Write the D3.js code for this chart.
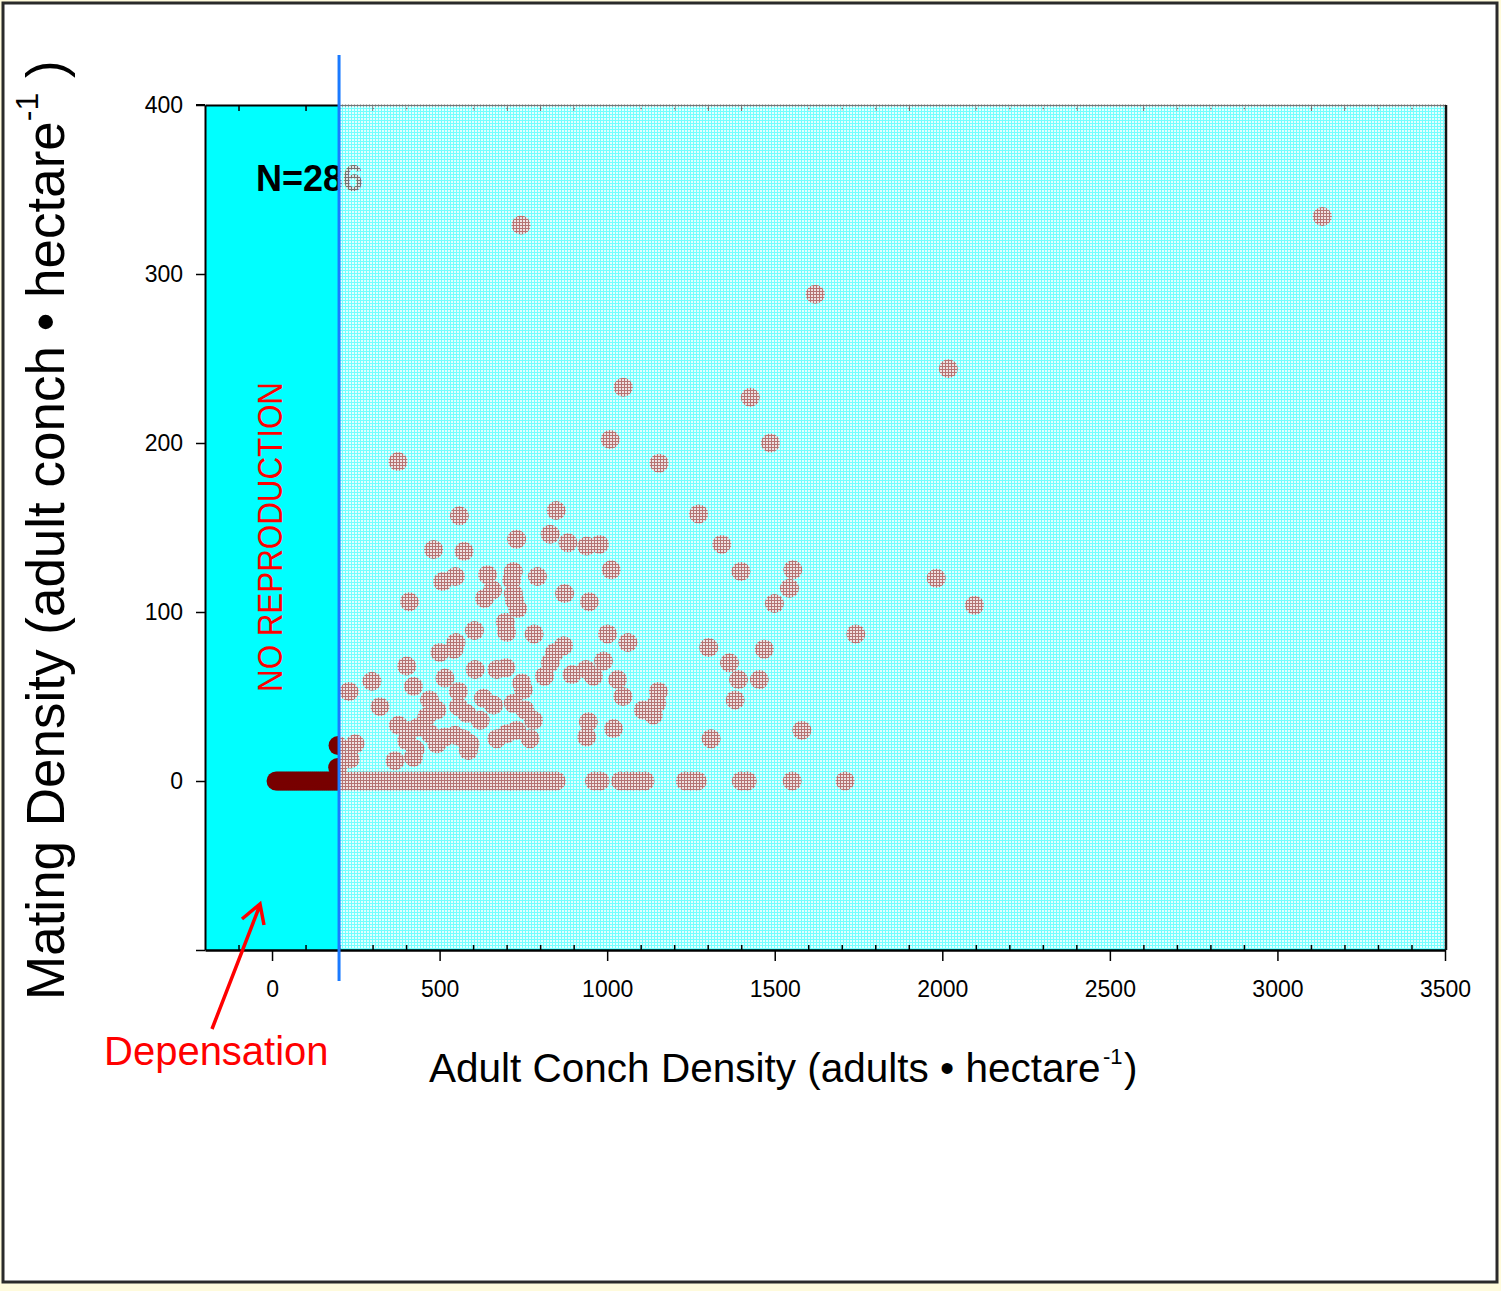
<!DOCTYPE html>
<html>
<head>
<meta charset="utf-8">
<script src="https://cdn.jsdelivr.net/npm/d3@7/dist/d3.min.js"></script>
<style>
  body { margin: 0; background: #fffbdc; }
  svg { display: block; font-family: "Liberation Sans", Arial, sans-serif; }
</style>
</head>
<body>
<div id="chart"></div>
<script>
// Axis ticks
const xTicks = [0, 500, 1000, 1500, 2000, 2500, 3000, 3500];
const yTicks = [-100, 0, 100, 200, 300, 400];
const yTickLabels = ['', '0', '100', '200', '300', '400'];

// Sites with no mating aggregations (mating density = 0)
const zeroDensity = [
  12, 18, 24, 30, 36, 42, 48, 54, 60, 66, 72, 78, 84, 90, 96, 102, 108, 114, 120, 126,
  132, 138, 144, 150, 156, 162, 168, 174, 180, 186, 192, 198,
  210, 222, 236, 248, 260, 272, 284, 296, 308, 320, 332, 344, 356, 368, 380, 392, 404,
  416, 428, 440, 452, 464, 476, 488, 500, 512, 524, 536, 548, 560, 572, 584, 596, 608,
  620, 632, 644, 656, 668, 680, 692, 704, 716, 728, 740, 752, 764, 776, 788, 800, 812,
  824, 836, 848, 962, 979, 1040, 1058, 1076, 1095, 1113, 1233, 1251, 1269, 1400, 1418,
  1552, 1710
];

// Sites with mating: adult density and mating density
const adultDensity = [
  559, 848, 730, 830, 883, 939, 977, 482, 573, 1012, 509, 547, 643, 720, 715, 792, 658,
  634, 720, 723, 733, 410, 873, 947, 696, 604, 700, 782, 1001, 1062, 549, 501, 543, 870,
  843, 830, 813, 402, 606, 671, 698, 516, 745, 750, 895, 937, 959, 989, 1031, 1047, 298,
  422, 230, 556, 631, 661, 470, 492, 462, 556, 581, 322, 720, 755, 780, 1153, 1148, 1108,
  1138, 944, 939, 1019, 377, 412, 437, 402, 427, 422, 472, 492, 516, 546, 571, 591, 586,
  621, 671, 700, 730, 770, 248, 233, 367, 197, 196,
  1273, 1342, 1399, 1554, 1544, 1499, 1982, 2096, 1303, 1742, 1469, 1365, 1392, 1454,
  1382, 1310, 1581, 743, 3134, 1621, 2018, 1048, 1427, 1009, 1487, 376, 1155
];
const matingDensity = [
  157, 160, 143, 146, 141, 139, 140, 137, 136, 125, 118, 121, 122, 124, 119, 121, 113,
  108, 111, 107, 102, 106, 111, 106, 94, 89, 88, 87, 87, 82, 82, 76, 78, 80,
  76, 70, 62, 68, 66, 66, 67, 61, 58, 54, 63, 66, 62, 71, 60, 50, 59,
  56, 53, 53, 49, 45, 48, 42, 38, 44, 40, 44, 46, 42, 36, 53, 46, 42,
  39, 35, 26, 31, 33, 30, 32, 24, 19, 14, 28, 22, 26, 27, 25, 22, 18,
  36, 25, 28, 30, 25, 22, 13, 12, 21, 8,
  158, 140, 124, 125, 114, 105, 120, 104, 79, 87, 78, 70, 60, 60,
  48, 25, 30, 329, 334, 288, 244, 233, 227, 202, 200, 189, 188
];

const W = 1501, H = 1291;
const svg = d3.select('#chart').append('svg').attr('width', W).attr('height', H);

const x = d3.scaleLinear().domain([-200, 3500]).range([205, 1445]);
const y = d3.scaleLinear().domain([-100, 400]).range([950, 105]);

const points = zeroDensity.map((d) => ({ x: d, y: 0 }))
  .concat(adultDensity.map((d, i) => ({ x: d, y: matingDensity[i] })));

// hatch used to grey out the area right of the threshold
const defs = svg.append('defs');
const pat = defs.append('pattern')
  .attr('id', 'hatch')
  .attr('patternUnits', 'userSpaceOnUse')
  .attr('width', 3)
  .attr('height', 3);
pat.append('rect').attr('width', 3).attr('height', 3).attr('fill', '#fff').attr('fill-opacity', 0.45);
pat.append('rect').attr('x', 1).attr('y', 1).attr('width', 2).attr('height', 2)
  .attr('fill', '#fff').attr('fill-opacity', 0.8);

// slide frame
svg.append('rect').attr('x', 3).attr('y', 3).attr('width', 1494).attr('height', 1279)
  .attr('fill', '#fff').attr('stroke', '#2a2a2a').attr('stroke-width', 3);

// plot background
svg.append('rect')
  .attr('x', x(-200)).attr('y', y(400))
  .attr('width', x(3500) - x(-200)).attr('height', y(-100) - y(400))
  .attr('fill', '#00ffff');

// top axis (minor ticks, pointing in)
svg.append('g')
  .attr('transform', `translate(0,${y(400)})`)
  .call(d3.axisTop(x).tickValues(d3.range(-100, 3500, 100).filter((d) => d % 500 !== 0))
    .tickSizeInner(-6).tickSizeOuter(0).tickFormat(''))
  .call((g) => g.select('.domain').attr('stroke-width', 2))
  .call((g) => g.selectAll('.tick line').attr('stroke-width', 1.5));
svg.append('line')
  .attr('x1', 196).attr('x2', x(-200)).attr('y1', y(400)).attr('y2', y(400))
  .attr('stroke', '#000').attr('stroke-width', 2);

// points
svg.append('g')
  .selectAll('circle')
  .data(points)
  .join('circle')
  .attr('cx', (d) => x(d.x))
  .attr('cy', (d) => y(d.y))
  .attr('r', 9.5)
  .attr('fill', '#780000');

svg.append('text')
  .attr('x', 256).attr('y', 191)
  .attr('font-size', 36).attr('font-weight', 'bold')
  .text('N=286');

// overlay over the reproducing range
svg.append('rect')
  .attr('x', x(200)).attr('y', y(400) - 1)
  .attr('width', x(3500) - x(200)).attr('height', y(-100) - y(400))
  .attr('fill', 'url(#hatch)');

// left axis
svg.append('g')
  .attr('transform', `translate(${x(-200)},0)`)
  .call(d3.axisLeft(y).tickValues(yTicks).tickSizeInner(9).tickSizeOuter(0).tickPadding(13)
    .tickFormat((d, i) => yTickLabels[i]))
  .call((g) => g.select('.domain').attr('stroke-width', 2))
  .call((g) => g.selectAll('.tick line').attr('stroke-width', 1.5))
  .call((g) => g.selectAll('text').attr('font-size', 23).attr('fill', '#000'));

// bottom axis: major ticks out, minor ticks in
svg.append('g')
  .attr('transform', `translate(0,${y(-100)})`)
  .call(d3.axisBottom(x).tickValues(d3.range(-100, 3500, 100).filter((d) => d % 500 !== 0))
    .tickSizeInner(-5).tickSizeOuter(0).tickFormat(''))
  .call((g) => g.select('.domain').remove())
  .call((g) => g.selectAll('.tick line').attr('stroke-width', 1.5));
svg.append('g')
  .attr('transform', `translate(0,${y(-100)})`)
  .call(d3.axisBottom(x).tickValues(xTicks).tickSizeInner(11).tickSizeOuter(0).tickPadding(20)
    .tickFormat(d3.format('d')))
  .call((g) => g.select('.domain').attr('stroke-width', 2.5))
  .call((g) => g.selectAll('.tick line').attr('stroke-width', 1.5))
  .call((g) => g.selectAll('text').attr('font-size', 23).attr('fill', '#000'));

// right edge
svg.append('line')
  .attr('x1', x(3500) + 1).attr('x2', x(3500) + 1).attr('y1', y(400)).attr('y2', y(-100))
  .attr('stroke', '#111').attr('stroke-width', 2.5);

// threshold line
svg.append('line')
  .attr('x1', x(200)).attr('x2', x(200)).attr('y1', 55).attr('y2', 981)
  .attr('stroke', '#1a7aff').attr('stroke-width', 3);

// annotations
svg.append('text')
  .attr('transform', 'translate(282,537) rotate(-90)')
  .attr('text-anchor', 'middle')
  .attr('font-size', 35)
  .attr('fill', '#ff0000')
  .attr('textLength', 310).attr('lengthAdjust', 'spacingAndGlyphs')
  .text('NO REPRODUCTION');

svg.append('text')
  .attr('x', 104).attr('y', 1065)
  .attr('font-size', 40)
  .attr('fill', '#ff0000')
  .text('Depensation');

svg.append('path')
  .attr('d', 'M212,1029 L260,905 M242,919 L260,904 L264,925')
  .attr('fill', 'none')
  .attr('stroke', '#ff0000')
  .attr('stroke-width', 3.5)
  .attr('stroke-linejoin', 'miter');

// x title (main text, superscript and closing paren kept apart)
svg.append('text')
  .attr('x', 429).attr('y', 1082)
  .attr('font-size', 40.5)
  .text('Adult Conch Density (adults \u2022 hectare');
svg.append('text')
  .attr('x', 1103).attr('y', 1064)
  .attr('font-size', 22)
  .text('-1');
svg.append('text')
  .attr('x', 1124).attr('y', 1082)
  .attr('font-size', 40.5)
  .text(')');

// y title
const yt = svg.append('text')
  .attr('transform', 'translate(64,1000) rotate(-90)')
  .attr('font-size', 53);
yt.append('tspan').text('Mating Density (adult conch \u2022 hectare');
yt.append('tspan').attr('font-size', 32).attr('dy', -26).text('-1');
yt.append('tspan').attr('dy', 26).text(' )');
</script>
</body>
</html>
